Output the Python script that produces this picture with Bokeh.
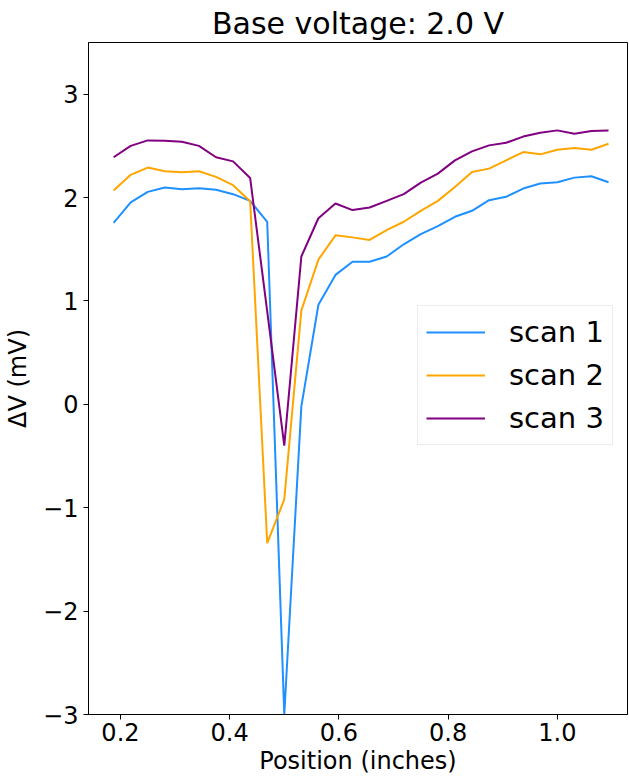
from bokeh.plotting import figure
from bokeh.models import FixedTicker, CustomJSTickFormatter, Legend, LegendItem, Range1d
from bokeh.embed import file_html
from bokeh.resources import INLINE

# Positions (inches): 30 samples every 1/32 inch
position = [0.1875, 0.21875, 0.25, 0.28125, 0.3125, 0.34375, 0.375, 0.40625, 0.4375, 0.46875,
            0.5, 0.53125, 0.5625, 0.59375, 0.625, 0.65625, 0.6875, 0.71875, 0.75, 0.78125,
            0.8125, 0.84375, 0.875, 0.90625, 0.9375, 0.96875, 1.0, 1.03125, 1.0625, 1.09375]

scan1 = [1.756, 1.953, 2.055, 2.097, 2.081, 2.09, 2.075, 2.033, 1.968, 1.766,
         -3.0, -0.02, 0.963, 1.252, 1.38, 1.38, 1.43, 1.548, 1.647, 1.724,
         1.814, 1.872, 1.975, 2.007, 2.087, 2.136, 2.148, 2.193, 2.206, 2.148]

scan2 = [2.068, 2.22, 2.29, 2.254, 2.245, 2.254, 2.2, 2.12, 1.965, -1.342,
         -0.92, 0.906, 1.40, 1.635, 1.615, 1.59, 1.686, 1.766, 1.872, 1.968,
         2.103, 2.248, 2.28, 2.36, 2.44, 2.418, 2.463, 2.479, 2.463, 2.521]

scan3 = [2.39, 2.50, 2.553, 2.55, 2.54, 2.50, 2.39, 2.35, 2.19, 0.90,
         -0.40, 1.43, 1.80, 1.943, 1.879, 1.904, 1.968, 2.033, 2.145, 2.232,
         2.36, 2.447, 2.505, 2.53, 2.59, 2.627, 2.65, 2.617, 2.643, 2.65]

series_names = ["scan 1", "scan 2", "scan 3"]
series_colors = ["#1E90FF", "#FFA500", "#800080"]

x_ticks = [0.2, 0.4, 0.6, 0.8, 1.0]
y_ticks = [-3, -2, -1, 0, 1, 2, 3]

FONT = "DejaVu Sans"

p = figure(width=629, height=777, output_backend="svg", toolbar_location=None,
           x_range=Range1d(0.1415, 1.1285), y_range=Range1d(-3.0, 3.5),
           min_border_left=88, min_border_right=2, min_border_top=42, min_border_bottom=61,
           title="Base voltage: 2.0 V")

p.title.text_font = FONT
p.title.text_font_size = "30px"
p.title.text_font_style = "normal"
p.title.text_color = "black"
p.title.align = "center"
p.title.offset = 0
p.title.standoff = 4

p.grid.visible = False
p.outline_line_color = "black"
p.outline_line_width = 1
p.background_fill_color = "white"
p.border_fill_color = "white"

renderers = []
for ys, c in zip([scan1, scan2, scan3], series_colors):
    r = p.line(position, ys, line_color=c, line_width=2)
    renderers.append(r)

for ax in (p.xaxis[0], p.yaxis[0]):
    ax.major_label_text_font = FONT
    ax.major_label_text_font_size = "24px"
    ax.axis_label_text_font = FONT
    ax.axis_label_text_font_size = "24px"
    ax.axis_label_text_font_style = "normal"
    ax.minor_tick_line_color = None
    ax.major_tick_in = 0
    ax.major_tick_out = 5
    ax.axis_line_color = "black"
    ax.major_tick_line_color = "black"
    ax.major_label_text_color = "black"
    ax.axis_label_text_color = "black"

p.xaxis[0].ticker = FixedTicker(ticks=x_ticks)
p.xaxis[0].formatter = CustomJSTickFormatter(code="return tick.toFixed(1);")
p.xaxis[0].axis_label = "Position (inches)"
p.xaxis[0].major_label_standoff = 3
p.xaxis[0].axis_label_standoff = 3

p.yaxis[0].ticker = FixedTicker(ticks=y_ticks)
p.yaxis[0].formatter = CustomJSTickFormatter(
    code="return tick < 0 ? '\u2212' + Math.abs(tick).toFixed(0) : tick.toFixed(0);")
p.yaxis[0].axis_label = "\u0394V (mV)"
p.yaxis[0].major_label_standoff = 5
p.yaxis[0].axis_label_standoff = 8

legend = Legend(items=[LegendItem(label=n, renderers=[r]) for n, r in zip(series_names, renderers)],
                location=(329, 269))
legend.label_text_font = FONT
legend.label_text_font_size = "29px"
legend.label_text_color = "black"
legend.glyph_width = 59
legend.glyph_height = 36
legend.label_height = 36
legend.label_standoff = 24
legend.spacing = 7
legend.padding = 8
legend.margin = 0
legend.border_line_color = "#d9d9d9"
legend.border_line_width = 1
legend.background_fill_alpha = 0.8
p.add_layout(legend, "center")

open("out.html", "w").write(file_html(p, INLINE))
